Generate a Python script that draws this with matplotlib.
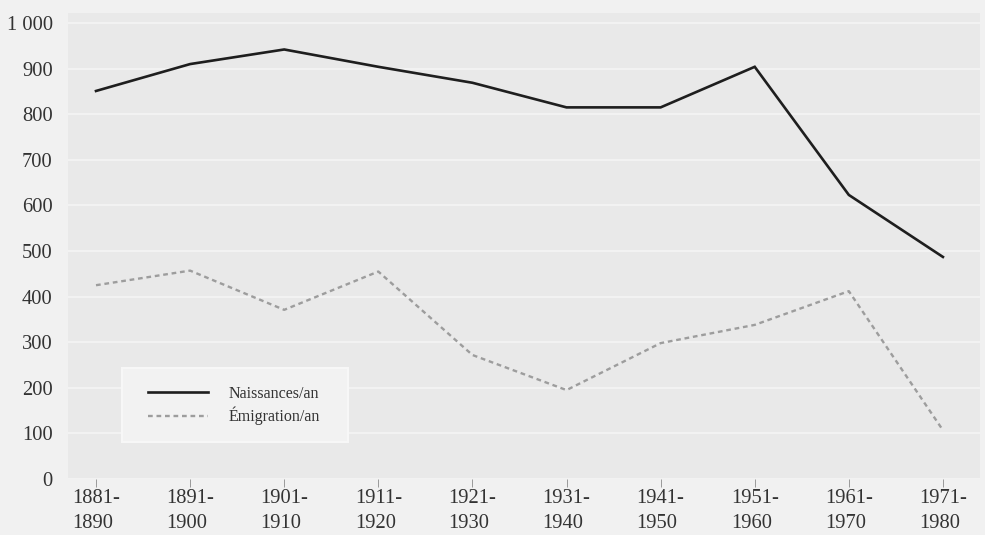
import matplotlib
matplotlib.use("Agg")
import matplotlib.pyplot as plt
from matplotlib.patches import Rectangle

# Decades and yearly averages
periods = ["1881-\n1890", "1891-\n1900", "1901-\n1910", "1911-\n1920", "1921-\n1930",
           "1931-\n1940", "1941-\n1950", "1951-\n1960", "1961-\n1970", "1971-\n1980"]
naissances = [851, 910, 942, 904, 869, 815, 815, 904, 623, 487]
emigration = [425, 457, 371, 455, 272, 195, 298, 338, 412, 107]
y_ticks = [0, 100, 200, 300, 400, 500, 600, 700, 800, 900, 1000]
y_tick_labels = ["0", "100", "200", "300", "400", "500", "600", "700", "800", "900", "1 000"]
series_labels = ["Naissances/an", "Émigration/an"]

W, H = 985, 535
fig = plt.figure(figsize=(W / 100, H / 100), dpi=100, facecolor="#f1f1f1")
plt.rcParams["font.family"] = ["Liberation Serif", "DejaVu Serif"]

left, right, top, bottom = 68, 980, 13, 479
ax = fig.add_axes([left / W, 1 - bottom / H, (right - left) / W, (bottom - top) / H])
ax.set_facecolor("#e9e9e9")

x = list(range(len(periods)))
ax.plot(x, naissances, color="#1e1e1e", lw=1.9, solid_joinstyle="miter",
        label=series_labels[0])
ax.plot(x, emigration, color="#9d9d9d", lw=1.7, linestyle=(0, (2.0, 1.6)),
        label=series_labels[1])

ax.set_xlim(-0.2976, 9.394)
ax.set_ylim(0, 1022)

ax.set_yticks(y_ticks)
ax.set_yticklabels(y_tick_labels, fontsize=14.8, color="#333333")
ax.set_xticks(x)
ax.set_xticklabels(periods, fontsize=14.8, color="#333333", linespacing=1.45)
for lbl in ax.get_xticklabels():
    lbl.set_multialignment("left")

ax.tick_params(axis="y", length=0, pad=11)
ax.tick_params(axis="x", length=6, width=0.7, color="#9a9a9a", pad=1, direction="out")

ax.yaxis.grid(True, color="white", lw=1.3, alpha=0.5)
ax.set_axisbelow(True)
for s in ax.spines.values():
    s.set_visible(False)

# Legend panel
panel = Rectangle((122 / W, 1 - 442 / H), (348 - 122) / W, (442 - 368) / H,
                  transform=fig.transFigure, facecolor="#f2f2f2",
                  edgecolor="#f7f7f7", lw=1.5, zorder=3)
ax.add_artist(panel)
panel.set_clip_on(False)

leg = ax.legend(loc="upper left", bbox_to_anchor=(148 / W, 1 - 386 / H),
                bbox_transform=fig.transFigure, borderaxespad=0, borderpad=0,
                prop={"size": 11.5}, handlelength=3.75, handletextpad=1.3,
                labelspacing=0.3, frameon=False)
leg.set_zorder(4)
for t in leg.get_texts():
    t.set_color("#333333")

fig.savefig("out.png", dpi=100, facecolor=fig.get_facecolor())
